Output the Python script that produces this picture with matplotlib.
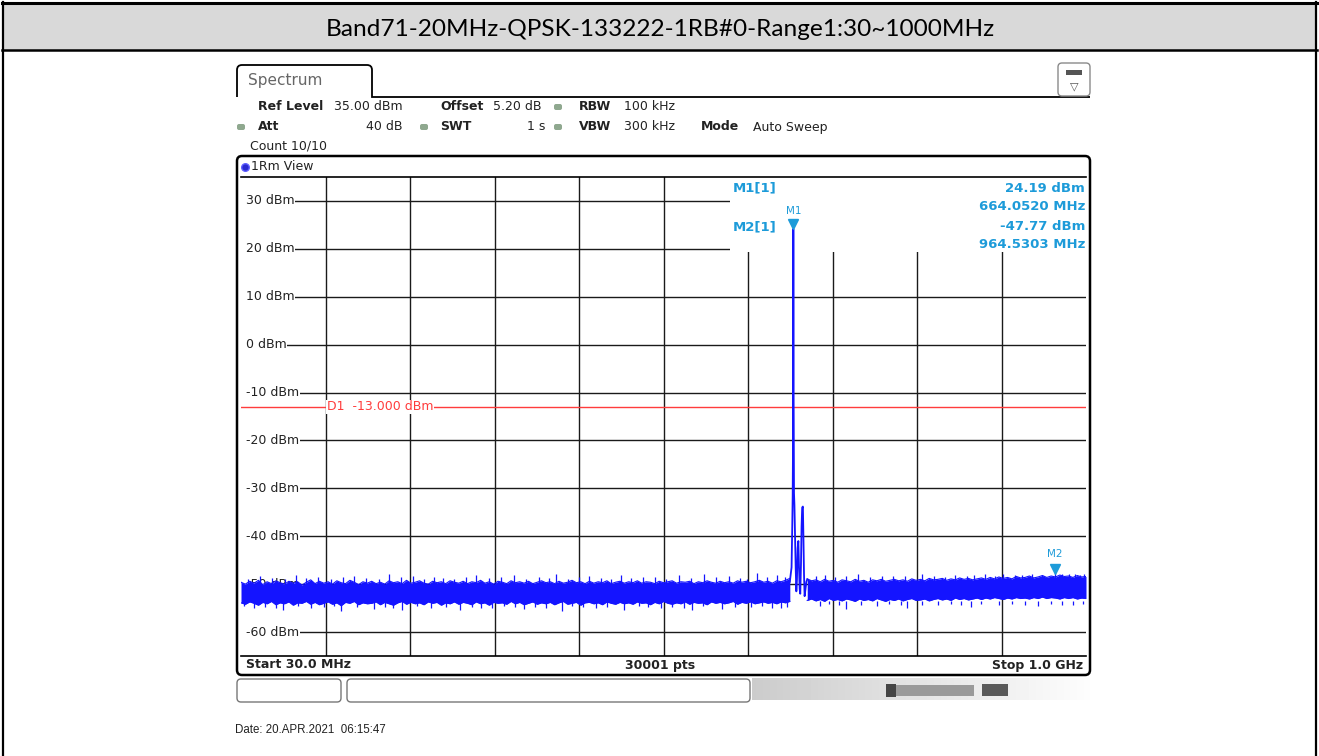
import matplotlib
matplotlib.use('Agg')
import matplotlib.pyplot as plt
import matplotlib.transforms as mtransforms
from matplotlib.patches import FancyBboxPatch, Rectangle, PathPatch
from matplotlib.path import Path
import numpy as np

W, H = 1319, 756

title = 'Band71-20MHz-QPSK-133222-1RB#0-Range1:30~1000MHz'
f_start, f_stop = 30.0, 1000.0
y_ticks = [30, 20, 10, 0, -10, -20, -30, -40, -50, -60]
display_line = -13.0

m1_freq, m1_level = 664.052, 24.19
m2_freq, m2_level = 964.5303, -47.77

# noise band below the carrier, 5 MHz bins from 30 to 660 MHz
left_upper = [
    -49.6, -50.0, -49.4, -49.8, -49.2, -50.1, -49.5, -49.9, -49.3, -49.7,
    -50.0, -49.4, -49.8, -49.5, -50.2, -49.6, -49.1, -49.9, -49.4, -49.8,
    -49.5, -50.0, -49.3, -49.7, -49.9, -49.2, -49.6, -50.1, -49.5, -49.8,
    -49.4, -49.9, -49.6, -50.0, -49.3, -49.7, -49.5, -49.9, -49.2, -49.8,
    -49.6, -49.3, -49.8, -50.0, -49.4, -49.7, -49.5, -49.9, -49.3, -49.6,
    -49.8, -49.4, -49.9, -49.5, -49.7, -49.2, -49.8, -49.5, -50.0, -49.4,
    -49.6, -49.9, -49.3, -49.7, -49.5, -49.8, -49.4, -49.9, -49.6, -49.3,
    -49.7, -49.5, -49.9, -49.4, -49.8, -49.6, -49.2, -49.7, -49.5, -49.9,
    -49.4, -49.8, -49.5, -49.7, -49.3, -49.9, -49.6, -49.4, -49.8, -49.5,
    -49.7, -49.3, -49.8, -49.5, -49.6, -49.9, -49.4, -49.7, -49.5, -49.3,
    -49.8, -49.5, -49.6, -49.4, -49.9, -49.5, -49.7, -49.3, -49.6, -49.8,
    -49.4, -49.7, -49.5, -49.8, -49.3, -49.6, -49.4, -49.7, -49.5, -49.2,
    -49.6, -49.4, -49.8, -49.3, -49.5, -49.2, -48.8,
]
left_lower = [
    -53.9, -54.2, -53.7, -54.0, -54.4, -53.8, -54.1, -53.6, -54.3, -53.9,
    -54.1, -53.7, -54.4, -53.9, -54.0, -53.6, -54.2, -53.8, -54.3, -54.0,
    -53.7, -54.2, -53.9, -54.5, -53.8, -54.0, -53.6, -54.3, -53.9, -54.1,
    -54.0, -53.7, -54.3, -53.8, -54.1, -54.4, -53.9, -53.6, -54.2, -53.8,
    -54.1, -53.9, -54.3, -53.7, -54.0, -53.8, -54.4, -53.9, -54.1, -53.7,
    -54.2, -53.8, -54.0, -54.3, -53.7, -54.1, -53.9, -54.4, -53.8, -54.0,
    -53.9, -54.2, -53.6, -54.1, -53.8, -54.3, -54.0, -53.7, -54.2, -53.9,
    -54.1, -53.8, -54.3, -53.9, -53.6, -54.2, -54.0, -53.8, -54.4, -53.9,
    -53.8, -54.1, -53.9, -54.3, -53.7, -54.0, -54.2, -53.8, -54.1, -53.9,
    -54.2, -53.7, -54.0, -53.9, -54.3, -53.8, -54.1, -53.6, -54.0, -54.2,
    -53.9, -54.1, -53.7, -54.2, -53.8, -54.0, -53.9, -54.3, -53.7, -54.0,
    -53.8, -54.1, -53.9, -53.6, -54.2, -53.8, -54.0, -53.7, -54.1, -53.9,
    -53.7, -54.0, -53.8, -54.1, -53.7, -53.9, -53.6,
]

# noise band above the carrier, 5 MHz bins from 680 to 1000 MHz
right_upper = [
    -48.9, -49.3, -49.1, -49.5, -49.0, -49.4, -49.2, -49.6, -49.1, -49.3,
    -49.5, -49.0, -49.4, -49.2, -49.6, -49.1, -49.3, -49.0, -49.4, -49.2,
    -49.0, -49.3, -49.1, -49.4, -48.9, -49.2, -49.0, -49.3, -48.8, -49.1,
    -49.0, -48.8, -49.2, -48.9, -49.1, -48.7, -49.0, -48.8, -49.1, -48.9,
    -48.7, -49.0, -48.6, -48.9, -48.5, -48.8, -48.6, -48.9, -48.4, -48.7,
    -48.6, -48.3, -48.7, -48.5, -48.2, -48.6, -48.3, -48.5, -48.1, -48.4,
    -48.3, -48.6, -48.2, -48.5, -48.4,
]
right_lower = [
    -53.4, -53.1, -53.5, -53.2, -53.6, -53.0, -53.4, -53.2, -53.5, -53.1,
    -53.3, -53.6, -53.1, -53.4, -53.2, -53.5, -53.0, -53.3, -53.6, -53.2,
    -53.4, -53.1, -53.5, -53.2, -53.0, -53.4, -53.3, -53.1, -53.5, -53.2,
    -53.0, -53.3, -53.1, -53.4, -52.9, -53.2, -53.0, -53.3, -53.1, -52.9,
    -53.2, -52.9, -53.1, -52.8, -53.0, -53.2, -52.9, -53.1, -52.8, -53.0,
    -52.9, -53.1, -52.8, -53.0, -52.7, -53.0, -52.8, -52.9, -53.1, -52.8,
    -53.0, -52.8, -53.1, -52.9, -53.0,
]

# carrier and the spur next to it
carrier_freq = [660, 661, 662, 662.8, 663.3, 663.7, 664.05, 664.4, 664.8, 665.3,
                666, 666.8, 667.5, 668.2, 669, 669.8, 670.5, 671.3, 672, 672.8,
                673.5, 674.2, 675, 675.6, 676.3, 677, 678, 679, 680]
carrier_level = [-49.5, -48.0, -46.5, -38.0, -31.5, -20.0, 24.19, -12.0, -31.0, -33.5,
                 -40.0, -47.0, -51.5, -49.0, -42.5, -41.0, -46.0, -51.0, -52.0, -46.0,
                 -38.0, -34.0, -33.8, -40.0, -48.0, -52.5, -51.0, -49.5, -49.0]

# single-sample noise spikes
spike_up_freq = [38, 52, 66, 80, 93, 105, 118, 133, 147, 160, 173, 188, 200, 214,
                 227, 240, 251, 262, 275, 288, 300, 315, 329, 343, 357, 372, 384,
                 392, 405, 418, 430, 443, 455, 466, 478, 492, 505, 518, 533, 547,
                 561, 575, 590, 603, 611, 622, 634, 645, 655, 690, 700, 712, 725,
                 738, 752, 766, 779, 792, 812, 826, 838, 850, 863, 871, 884, 895,
                 905, 918, 926, 938, 950, 964.53, 972, 980, 987, 993, 998]
spike_up_level = [-48.9, -48.4, -48.8, -49.0, -48.0, -48.7, -48.6, -48.9, -48.5, -48.2,
                  -48.8, -49.0, -47.9, -48.6, -48.3, -48.9, -48.5, -48.7, -49.0, -48.6,
                  -48.1, -48.8, -48.5, -48.0, -48.9, -48.5, -48.7, -47.8, -48.9, -48.6,
                  -48.4, -48.8, -48.9, -48.0, -48.7, -48.5, -48.6, -48.9, -48.1, -48.7,
                  -47.9, -48.6, -48.3, -48.8, -48.9, -47.7, -48.5, -48.0, -48.6, -48.3,
                  -48.1, -48.5, -48.4, -47.9, -48.6, -48.2, -48.3, -48.4, -47.9, -48.2,
                  -48.5, -48.0, -48.3, -48.1, -47.9, -48.2, -47.85, -48.1, -48.0, -47.9,
                  -48.0, -47.77, -47.9, -47.85, -47.95, -48.0, -47.9]
spike_dn_freq = [33, 45, 58, 70, 78, 95, 110, 125, 137, 145, 163, 183, 195, 205, 215,
                 232, 248, 265, 281, 295, 305, 318, 332, 344, 355, 368, 380, 398,
                 410, 423, 437, 450, 470, 487, 497, 512, 525, 538, 548, 560, 582,
                 597, 615, 628, 640, 650, 657, 695, 705, 716, 725, 742, 760, 774,
                 788, 795, 812, 830, 845, 856, 868, 880, 900, 915, 930, 945, 960,
                 972, 985, 996]
spike_dn_level = [-54.6, -55.0, -54.7, -54.9, -55.4, -54.6, -54.9, -54.8, -54.6, -55.6,
                  -54.8, -55.1, -54.7, -54.9, -55.3, -54.6, -54.9, -54.8, -55.5, -54.7,
                  -54.9, -55.0, -54.6, -54.8, -55.2, -54.7, -54.9, -55.6, -54.6, -54.8,
                  -54.9, -54.7, -55.3, -54.6, -54.8, -55.0, -54.7, -54.9, -55.4, -54.6,
                  -55.1, -54.8, -54.8, -54.6, -54.9, -55.0, -54.7, -54.6, -54.2, -54.4,
                  -55.1, -54.3, -54.5, -54.2, -54.4, -54.9, -54.3, -54.4, -54.1, -54.3,
                  -54.7, -54.2, -54.3, -54.1, -54.4, -54.6, -54.2, -54.3, -54.4, -54.1]

left_freq = np.arange(30, 661, 5)
right_freq = np.arange(680, 1001, 5)

TRACE = '#1414ff'
MARK = '#1d9bd9'
INK = '#222222'

fig = plt.figure(figsize=(W / 100, H / 100), dpi=100)
plt.rcParams['font.family'] = 'DejaVu Sans'


def ftext(x, y, s, **kw):
    kw.setdefault('va', 'center')
    kw.setdefault('fontsize', 9)
    kw.setdefault('color', INK)
    fig.text(x / W, 1 - y / H, s, **kw)


# background layer in pixel coordinates
bg = fig.add_axes([0, 0, 1, 1])
bg.set_zorder(0)
bg.axis('off')

# table around the screenshot
bg.add_patch(Rectangle((3, 3), 1313, 47, facecolor='#d9d9d9', edgecolor='none'))
bg.plot([2, 1317], [3, 3], color='black', lw=2.2)
bg.plot([2, 1317], [50, 50], color='black', lw=1.8)
bg.plot([3, 3], [2, 756], color='black', lw=1.6)
bg.plot([1316, 1316], [2, 756], color='black', lw=1.6)

# Spectrum tab
verts = [(237, 97), (237, 70), (237, 65), (242, 65), (367, 65), (372, 65), (372, 70),
         (372, 97), (1090, 97)]
codes = [Path.MOVETO, Path.LINETO, Path.CURVE3, Path.CURVE3, Path.LINETO, Path.CURVE3,
         Path.CURVE3, Path.LINETO, Path.LINETO]
bg.add_patch(PathPatch(Path(verts, codes), facecolor='none', edgecolor='black', lw=1.3))

# settings icon top right
bg.add_patch(FancyBboxPatch((1058, 63), 32, 33, boxstyle='round,pad=0,rounding_size=4',
                            facecolor='white', edgecolor='#8a8a8a', lw=1.0))
bg.add_patch(Rectangle((1066, 70), 16, 5, facecolor='#555555', edgecolor='none'))

# status dots
for dx, dy in [(558, 107), (241, 127), (424, 127), (558, 127)]:
    bg.add_patch(FancyBboxPatch((dx - 4, dy - 3), 8, 6, boxstyle='round,pad=0,rounding_size=2',
                                facecolor='#8fa88f', edgecolor='none'))

# diagram frame
bg.add_patch(FancyBboxPatch((237, 156), 853, 519, boxstyle='round,pad=0,rounding_size=5',
                            facecolor='white', edgecolor='black', lw=1.8))
bg.scatter([245], [167], s=30, color='#2a2ad0', edgecolor='#6060ff', zorder=3)

# soft keys under the screen
bg.add_patch(FancyBboxPatch((237, 679), 104, 23, boxstyle='round,pad=0,rounding_size=4',
                            facecolor='white', edgecolor='#777777', lw=1.0))
bg.add_patch(FancyBboxPatch((347, 679), 403, 23, boxstyle='round,pad=0,rounding_size=4',
                            facecolor='white', edgecolor='#777777', lw=1.0))
grad = np.linspace(0.8, 0.99, 60)[None, :]
bg.imshow(grad, extent=[752, 1090, 700, 678], cmap='gray', vmin=0, vmax=1,
          aspect='auto', interpolation='bilinear')
bg.add_patch(Rectangle((886, 684), 10, 13, facecolor='#444444', edgecolor='none'))
bg.add_patch(Rectangle((896, 685), 78, 11, facecolor='#9a9a9a', edgecolor='none'))
bg.add_patch(Rectangle((982, 684), 26, 12, facecolor='#5a5a5a', edgecolor='none'))

bg.set_xlim(0, W)
bg.set_ylim(H, 0)

# spectrum diagram
ax = fig.add_axes([241 / W, 1 - 656 / H, 845 / W, 479 / H])
ax.set_zorder(1)
ax.set_xlim(f_start, f_stop)
ax.set_ylim(-65, 35)
ax.set_xticks([])
ax.set_yticks([])
for side in ['left', 'right']:
    ax.spines[side].set_visible(False)
for side in ['top', 'bottom']:
    ax.spines[side].set_linewidth(1.2)

step = (f_stop - f_start) / 10
for k in range(1, 10):
    ax.axvline(f_start + k * step, color='#1a1a1a', lw=1.0, zorder=1)
ytrans = mtransforms.blended_transform_factory(ax.transAxes, ax.transData)
for yv in y_ticks:
    ax.plot([0.006, 1.0], [yv, yv], transform=ytrans, color='#1a1a1a', lw=1.0, zorder=1)
    ax.text(0.0055, yv, f'{yv} dBm', transform=ytrans, va='center', ha='left',
            fontsize=9, color=INK, zorder=3,
            bbox=dict(facecolor='white', edgecolor='none', pad=0.6))

ax.axhline(display_line, color='#ff3c3c', lw=1.0, zorder=2)
ax.text(0.102, display_line, 'D1  -13.000 dBm', transform=ytrans, va='center', ha='left',
        fontsize=9, color='#ff3c3c', zorder=3,
        bbox=dict(facecolor='white', edgecolor='none', pad=0.5))

# area kept clear for the marker table
ax.add_patch(Rectangle((0.579, 0.843), 0.421, 0.157, transform=ax.transAxes,
                       facecolor='white', edgecolor='none', zorder=2))

ax.fill_between(left_freq, left_lower, left_upper, color=TRACE, lw=0, zorder=4)
ax.plot(left_freq, left_upper, color=TRACE, lw=0.8, zorder=4)
ax.plot(left_freq, left_lower, color=TRACE, lw=0.8, zorder=4)
ax.fill_between(right_freq, right_lower, right_upper, color=TRACE, lw=0, zorder=4)
ax.plot(right_freq, right_upper, color=TRACE, lw=0.8, zorder=4)
ax.plot(right_freq, right_lower, color=TRACE, lw=0.8, zorder=4)
ax.vlines(spike_up_freq, -50, spike_up_level, color=TRACE, lw=0.9, zorder=4)
ax.vlines(spike_dn_freq, spike_dn_level, -53.5, color=TRACE, lw=0.9, zorder=4)
ax.plot(carrier_freq, carrier_level, color=TRACE, lw=1.3, zorder=5)

ax.plot([m1_freq], [m1_level + 1.0], marker='v', markersize=7, color=MARK, zorder=6)
ax.plot([m2_freq], [m2_level + 1.0], marker='v', markersize=7, color=MARK, zorder=6)
ax.text(m1_freq, m1_level + 3.8, 'M1', ha='center', va='center', fontsize=7.5,
        color=MARK, zorder=6)
ax.text(m2_freq, m2_level + 4.0, 'M2', ha='center', va='center', fontsize=7.5,
        color=MARK, zorder=6)

# title row
ftext(660, 30, title, ha='center', fontsize=17.6, family='Lato', color='black')

# header texts
ftext(248, 81, 'Spectrum', fontsize=11, color='#666666')
ftext(1074, 86, '\u25bd', ha='center', fontsize=8, color='#555555')
ftext(258, 107, 'Ref Level', fontweight='bold')
ftext(334, 107, '35.00 dBm')
ftext(440, 107, 'Offset', fontweight='bold')
ftext(493, 107, '5.20 dB')
ftext(579, 107, 'RBW', fontweight='bold')
ftext(624, 107, '100 kHz')
ftext(258, 127, 'Att', fontweight='bold')
ftext(402, 127, '40 dB', ha='right')
ftext(440, 127, 'SWT', fontweight='bold')
ftext(545, 127, '1 s', ha='right')
ftext(579, 127, 'VBW', fontweight='bold')
ftext(624, 127, '300 kHz')
ftext(701, 127, 'Mode', fontweight='bold')
ftext(753, 127, 'Auto Sweep')
ftext(250, 146, 'Count 10/10')
ftext(251, 167, '1Rm View')

# marker table
ftext(733, 188, 'M1[1]', fontweight='bold', color=MARK, fontsize=9.5)
ftext(733, 227, 'M2[1]', fontweight='bold', color=MARK, fontsize=9.5)
ftext(1085, 188, f'{m1_level:.2f} dBm', ha='right', fontweight='bold', color=MARK, fontsize=9.5)
ftext(1085, 207, f'{m1_freq:.4f} MHz', ha='right', fontweight='bold', color=MARK, fontsize=9.5)
ftext(1085, 226, f'{m2_level:.2f} dBm', ha='right', fontweight='bold', color=MARK, fontsize=9.5)
ftext(1085, 244, f'{m2_freq:.4f} MHz', ha='right', fontweight='bold', color=MARK, fontsize=9.5)

# status bar
ftext(246, 665, 'Start 30.0 MHz', fontweight='bold')
ftext(660, 665, '30001 pts', ha='center', fontweight='bold')
ftext(1083, 665, 'Stop 1.0 GHz', ha='right', fontweight='bold')

ftext(235, 730, 'Date: 20.APR.2021  06:15:47', fontsize=8.3, family='Liberation Sans')

fig.savefig('out.png', dpi=100)
